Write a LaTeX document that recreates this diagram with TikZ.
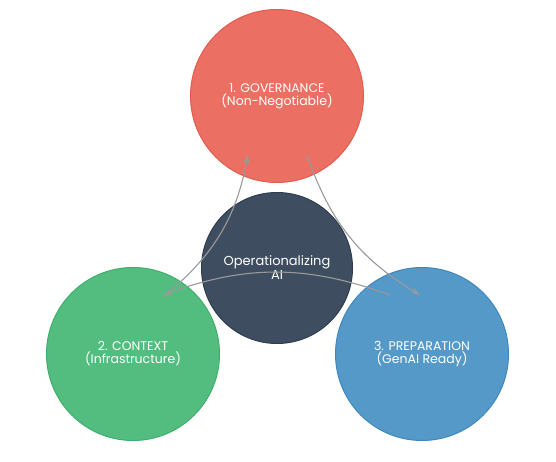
\documentclass[tikz,border=0pt]{standalone}
\usepackage{fontspec}
\setmainfont{Poppins}
\usetikzlibrary{positioning, arrows.meta, calc}
\definecolor{govred}{HTML}{EB6F62}
\definecolor{govredline}{HTML}{E35C4E}
\definecolor{ctxgreen}{HTML}{52BD7F}
\definecolor{ctxgreenline}{HTML}{3FB06C}
\definecolor{prepblue}{HTML}{5499C8}
\definecolor{prepblueline}{HTML}{3F88BD}
\definecolor{coreslate}{HTML}{3E4E60}
\definecolor{coreslateline}{HTML}{2E3E50}
\definecolor{flowgray}{HTML}{9A9A9A}

\begin{document}
\begin{tikzpicture}[
                x=1pt, y=1pt,
                >={Stealth[length=9pt, width=6pt]},
                pillar/.style={circle, minimum size=173pt, inner sep=0pt, line width=1pt, align=center, text=white, font=\fontsize{12.5}{13}\selectfont},
                core/.style={circle, minimum size=151pt, inner sep=0pt, line width=1pt, align=center, text=white, font=\fontsize{13}{14}\selectfont, fill=coreslate, draw=coreslateline},
                flow/.style={->, draw=flowgray, line width=1.1pt, bend right=20},
            ]
                \useasboundingbox (0,0) rectangle (556,462);

                % Draw the centre node
                \node[core] (core) at (277,194) {Operationalizing\\AI};

                % Draw the three pillars
                \foreach \name / \x / \y / \col / \txt in {
                        gov/277/366/govred/{1. GOVERNANCE\\(Non-Negotiable)},
                        ctx/133/108/ctxgreen/{2. CONTEXT\\(Infrastructure)},
                        prep/422/108/prepblue/{3. PREPARATION\\(GenAI Ready)}}
                    \node[pillar, fill=\col, draw=\col line] (\name) at (\x,\y) {\txt};

                % Ends of the cycle arrows, inside the pillars
                \coordinate (ctx-out) at (163,165);
                \coordinate (gov-in) at (248,307);
                \coordinate (gov-out) at (307,307);
                \coordinate (prep-in) at (420,167);
                \coordinate (prep-out) at (390,167);
                \coordinate (ctx-in) at (163,167);

                % Connect the pillars in a cycle
                \draw[flow] (ctx-out) to (gov-in);
                \draw[flow] (gov-out) to (prep-in);
                \draw[flow] (prep-out) to (ctx-in);
            \end{tikzpicture}
\end{document}
